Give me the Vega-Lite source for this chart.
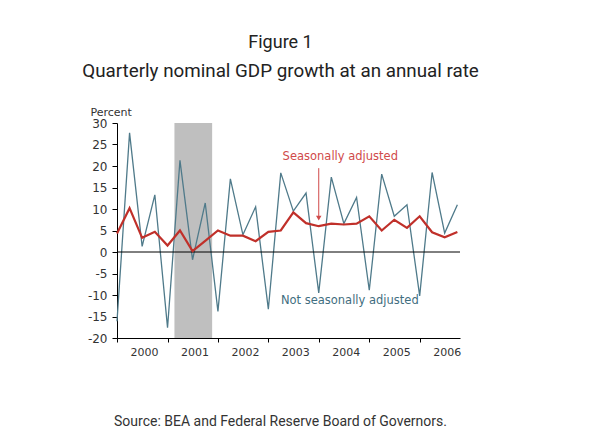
{
  "$schema": "https://vega.github.io/schema/vega-lite/v6.json",
  "autosize": "none",
  "width": 343,
  "height": 215,
  "padding": {"left": 117, "top": 123, "right": 140, "bottom": 105},
  "background": "white",
  "title": {
    "text": "Figure 1",
    "subtitle": "Quarterly nominal GDP growth at an annual rate",
    "font": "Roboto",
    "fontSize": 18,
    "fontWeight": "normal",
    "color": "#222222",
    "subtitleFont": "Roboto",
    "subtitleFontSize": 18.8,
    "subtitleColor": "#222222",
    "subtitlePadding": 10,
    "anchor": "middle",
    "frame": "group",
    "offset": 25,
    "dx": -8
  },
  "config": {
    "view": {"stroke": null},
    "axis": {
      "labelFont": "DejaVu Sans",
      "labelColor": "#333333",
      "domainColor": "#000000",
      "tickColor": "#000000",
      "grid": false
    },
    "axisY": {
      "labelOverlap": false,
      "labelFontSize": 12,
      "tickSize": 5,
      "labelPadding": 5
    }
  },
  "datasets": {
    "gdp": [
      {"date": "2000-01-01", "series": "NSA", "value": -16.1},
      {"date": "2000-04-01", "series": "NSA", "value": 27.7},
      {"date": "2000-07-01", "series": "NSA", "value": 1.3},
      {"date": "2000-10-01", "series": "NSA", "value": 13.3},
      {"date": "2001-01-01", "series": "NSA", "value": -17.6},
      {"date": "2001-04-01", "series": "NSA", "value": 21.3},
      {"date": "2001-07-01", "series": "NSA", "value": -1.8},
      {"date": "2001-10-01", "series": "NSA", "value": 11.4},
      {"date": "2002-01-01", "series": "NSA", "value": -13.8},
      {"date": "2002-04-01", "series": "NSA", "value": 17.0},
      {"date": "2002-07-01", "series": "NSA", "value": 4.0},
      {"date": "2002-10-01", "series": "NSA", "value": 10.5},
      {"date": "2003-01-01", "series": "NSA", "value": -13.3},
      {"date": "2003-04-01", "series": "NSA", "value": 18.4},
      {"date": "2003-07-01", "series": "NSA", "value": 9.5},
      {"date": "2003-10-01", "series": "NSA", "value": 13.7},
      {"date": "2004-01-01", "series": "NSA", "value": -9.5},
      {"date": "2004-04-01", "series": "NSA", "value": 17.4},
      {"date": "2004-07-01", "series": "NSA", "value": 6.6},
      {"date": "2004-10-01", "series": "NSA", "value": 12.7},
      {"date": "2005-01-01", "series": "NSA", "value": -8.9},
      {"date": "2005-04-01", "series": "NSA", "value": 18.1},
      {"date": "2005-07-01", "series": "NSA", "value": 8.3},
      {"date": "2005-10-01", "series": "NSA", "value": 11.0},
      {"date": "2006-01-01", "series": "NSA", "value": -10.2},
      {"date": "2006-04-01", "series": "NSA", "value": 18.5},
      {"date": "2006-07-01", "series": "NSA", "value": 4.4},
      {"date": "2006-10-01", "series": "NSA", "value": 11.0},
      {"date": "2000-01-01", "series": "SA", "value": 4.3},
      {"date": "2000-04-01", "series": "SA", "value": 10.2},
      {"date": "2000-07-01", "series": "SA", "value": 3.3},
      {"date": "2000-10-01", "series": "SA", "value": 4.7},
      {"date": "2001-01-01", "series": "SA", "value": 1.5},
      {"date": "2001-04-01", "series": "SA", "value": 5.0},
      {"date": "2001-07-01", "series": "SA", "value": 0.2},
      {"date": "2001-10-01", "series": "SA", "value": 2.6},
      {"date": "2002-01-01", "series": "SA", "value": 5.0},
      {"date": "2002-04-01", "series": "SA", "value": 3.8},
      {"date": "2002-07-01", "series": "SA", "value": 3.8},
      {"date": "2002-10-01", "series": "SA", "value": 2.5},
      {"date": "2003-01-01", "series": "SA", "value": 4.7},
      {"date": "2003-04-01", "series": "SA", "value": 5.0},
      {"date": "2003-07-01", "series": "SA", "value": 9.2},
      {"date": "2003-10-01", "series": "SA", "value": 6.7},
      {"date": "2004-01-01", "series": "SA", "value": 6.0},
      {"date": "2004-04-01", "series": "SA", "value": 6.6},
      {"date": "2004-07-01", "series": "SA", "value": 6.4},
      {"date": "2004-10-01", "series": "SA", "value": 6.6},
      {"date": "2005-01-01", "series": "SA", "value": 8.3},
      {"date": "2005-04-01", "series": "SA", "value": 5.0},
      {"date": "2005-07-01", "series": "SA", "value": 7.5},
      {"date": "2005-10-01", "series": "SA", "value": 5.6},
      {"date": "2006-01-01", "series": "SA", "value": 8.3},
      {"date": "2006-04-01", "series": "SA", "value": 4.6},
      {"date": "2006-07-01", "series": "SA", "value": 3.4},
      {"date": "2006-10-01", "series": "SA", "value": 4.65}
    ]
  },
  "encoding": {
    "x": {
      "field": "date",
      "type": "temporal",
      "scale": {"domain": ["2000-01-01", "2006-10-20"]},
      "axis": {
        "title": "Source: BEA and Federal Reserve Board of Governors.",
        "titleFont": "Roboto",
        "titleFontSize": 14,
        "titleFontWeight": "normal",
        "titleColor": "#333333",
        "titleX": 163,
        "titleY": 87,
        "titleAlign": "center",
        "titleBaseline": "alphabetic",
        "format": "%Y",
        "tickCount": {"interval": "year", "step": 1},
        "labelOffset": 27,
        "labelFlush": false,
        "labelOverlap": false,
        "labelFontSize": 11,
        "tickSize": 4,
        "labelPadding": 4
      }
    },
    "y": {
      "field": "value",
      "type": "quantitative",
      "scale": {"domain": [-20, 30], "nice": false},
      "axis": {
        "values": [-20, -15, -10, -5, 0, 5, 10, 15, 20, 25, 30],
        "tickCount": 20,
        "labelExpr": "toString(datum.value)",
        "labelOverlap": false,
        "title": "Percent",
        "titleAngle": 0,
        "titleAlign": "left",
        "titleBaseline": "alphabetic",
        "titleX": -27,
        "titleY": -8,
        "titleFont": "DejaVu Sans",
        "titleFontSize": 11,
        "titleFontWeight": "normal",
        "titleColor": "#333333"
      }
    }
  },
  "layer": [
    {
      "data": {"values": [{"date": "2001-02-20", "end": "2001-11-20", "value": 30, "bottom": -20}]},
      "mark": {"type": "rect", "color": "#bfbfbf"},
      "encoding": {
        "x2": {"field": "end"},
        "y2": {"field": "bottom"}
      }
    },
    {
      "data": {"name": "gdp"},
      "mark": {"type": "line", "strokeWidth": 1.3, "color": "#4f7a8a"},
      "transform": [{"filter": "datum.series === 'NSA'"}]
    },
    {
      "data": {"values": [{"date": "2000-01-01", "end": "2006-10-20", "value": 0}]},
      "mark": {"type": "rule", "color": "#000000", "strokeWidth": 1},
      "encoding": {
        "x2": {"field": "end"}
      }
    },
    {
      "data": {"name": "gdp"},
      "mark": {"type": "line", "strokeWidth": 2.2, "color": "#c0302a"},
      "transform": [{"filter": "datum.series === 'SA'"}]
    },
    {
      "data": {"values": [{"date": "2004-01-01", "value": 19.5, "bottom": 8.0}]},
      "mark": {"type": "rule", "color": "#d04a4a", "strokeWidth": 1},
      "encoding": {
        "y2": {"field": "bottom"}
      }
    },
    {
      "data": {"values": [{"date": "2004-01-01", "value": 7.9}]},
      "mark": {"type": "point", "shape": "triangle-down", "filled": true, "size": 30, "color": "#d04a4a", "opacity": 1}
    },
    {
      "data": {"values": [
        {"date": "2004-06-05", "value": 22.0, "label": "Seasonally adjusted", "series": "SA"},
        {"date": "2004-08-13", "value": -11.3, "label": "Not seasonally adjusted", "series": "NSA"}
      ]},
      "mark": {"type": "text", "font": "DejaVu Sans", "fontSize": 11.5, "align": "center", "baseline": "middle"},
      "encoding": {
        "text": {"field": "label"},
        "color": {
          "field": "series",
          "type": "nominal",
          "scale": {"domain": ["SA", "NSA"], "range": ["#d04a4a", "#3f6e80"]},
          "legend": null
        }
      }
    }
  ]
}
